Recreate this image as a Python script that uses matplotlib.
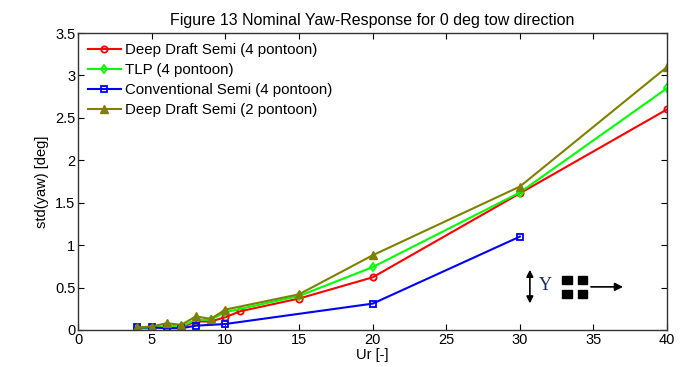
import matplotlib
matplotlib.use('Agg')
import matplotlib.pyplot as plt
from matplotlib.patches import Rectangle

plt.rcParams['font.family'] = ['Liberation Sans', 'DejaVu Sans']
plt.rcParams['font.size'] = 10

# data
ur_red = [4, 5, 6, 7, 8, 9, 10, 11, 15, 20, 30, 40]
yaw_red = [0.02, 0.02, 0.04, 0.03, 0.10, 0.10, 0.15, 0.22, 0.37, 0.62, 1.61, 2.60]

ur_green = [4, 5, 6, 7, 8, 9, 10, 15, 20, 30, 40]
yaw_green = [0.02, 0.02, 0.05, 0.04, 0.12, 0.12, 0.21, 0.40, 0.74, 1.62, 2.85]

ur_blue = [4, 5, 6, 7, 8, 10, 20, 30]
yaw_blue = [0.03, 0.03, 0.02, 0.02, 0.05, 0.07, 0.31, 1.10]

ur_olive = [4, 5, 6, 7, 8, 9, 10, 15, 20, 30, 40]
yaw_olive = [0.03, 0.04, 0.08, 0.06, 0.16, 0.13, 0.24, 0.42, 0.88, 1.69, 3.10]

labels = ['Deep Draft Semi (4 pontoon)', 'TLP (4 pontoon)',
          'Conventional Semi (4 pontoon)', 'Deep Draft Semi (2 pontoon)']

fig = plt.figure(figsize=(6.8, 3.67), dpi=100)
ax = fig.add_axes([0.115, 0.101, 0.866, 0.809])

ax.plot(ur_red, yaw_red, '-o', color='#ff0000', lw=1.5, ms=4.5, mfc='none', mew=1.3, label=labels[0])
ax.plot(ur_green, yaw_green, '-d', color='#00ff00', lw=1.5, ms=4.5, mfc='none', mew=1.3, label=labels[1])
ax.plot(ur_blue, yaw_blue, '-s', color='#0000ff', lw=1.5, ms=5, mfc='none', mew=1.3, label=labels[2])
ax.plot(ur_olive, yaw_olive, '-^', color='#808000', lw=1.5, ms=6, mfc='#808000', label=labels[3])

ax.set_xlim(0, 40)
ax.set_ylim(0, 3.5)
ax.set_xticks(range(0, 41, 5))
ax.set_yticks([0, 0.5, 1, 1.5, 2, 2.5, 3, 3.5])
ax.set_yticklabels(['0', '0.5', '1', '1.5', '2', '2.5', '3', '3.5'])
ax.tick_params(direction='in', top=True, right=True, length=4, width=0.8, pad=2, labelsize=10.5)
for s in ax.spines.values():
    s.set_linewidth(1.0)
    s.set_color('#333333')

ax.set_xlabel('Ur [-]', fontsize=10.5, labelpad=1)
ax.set_ylabel('std(yaw) [deg]', fontsize=10.5, labelpad=4)
ax.set_title('Figure 13 Nominal Yaw-Response for 0 deg tow direction', fontsize=11.5, pad=6)

leg = ax.legend(loc='upper left', frameon=False, handlelength=2.2, borderaxespad=0.25,
                labelspacing=0.4, handletextpad=0.25, fontsize=10.8)

# towing direction sketch
ax.annotate('', xy=(0.767, 0.080), xytext=(0.767, 0.212), xycoords='axes fraction',
            arrowprops=dict(arrowstyle='<|-|>', color='black', lw=1.2, mutation_scale=10))
ax.text(0.793, 0.150, 'Y', transform=ax.transAxes, fontsize=13, family='Liberation Serif',
        color='#1a2a60', ha='center', va='center')
for cx in (0.830, 0.857):
    for cy in (0.168, 0.121):
        ax.add_patch(Rectangle((cx - 0.0078, cy - 0.0145), 0.0156, 0.029,
                               transform=ax.transAxes, color='black'))
ax.annotate('', xy=(0.930, 0.145), xytext=(0.866, 0.145), xycoords='axes fraction',
            arrowprops=dict(arrowstyle='-|>', color='black', lw=1.2, mutation_scale=12))

plt.savefig('out.png', dpi=100)
